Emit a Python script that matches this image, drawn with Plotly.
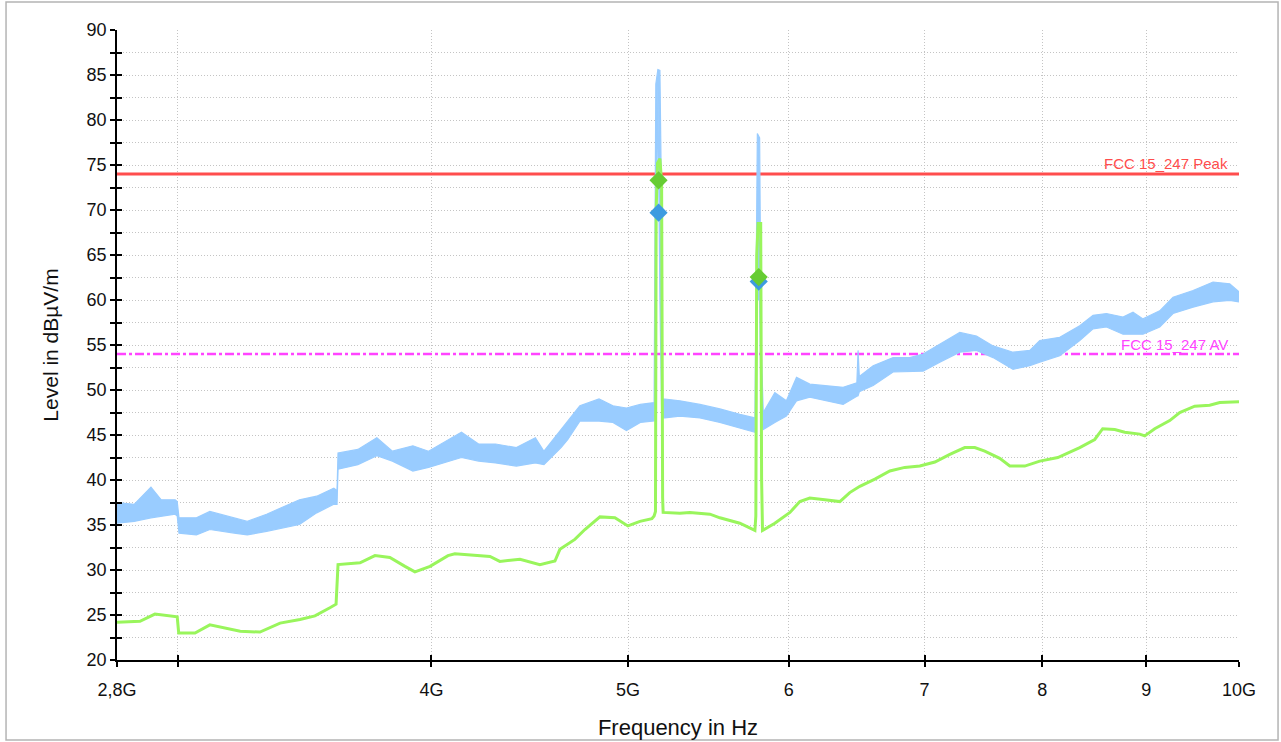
import math
import plotly.graph_objects as go

# ---------------- data ----------------
# Average detector trace (green), frequency in GHz, level in dBuV/m
avg_freq_ghz = [2.800, 2.874, 2.923, 2.990, 2.998, 3.003, 3.059, 3.111, 3.220, 3.293,
                3.369, 3.446, 3.505, 3.565, 3.590, 3.598, 3.689, 3.752, 3.816, 3.882,
                3.926, 3.994, 4.076, 4.108, 4.179, 4.275, 4.323, 4.423, 4.524, 4.602,
                4.628, 4.707, 4.761, 4.843, 4.926, 4.999, 5.068, 5.137, 5.150, 5.158,
                5.162, 5.170, 5.184, 5.194, 5.200, 5.203, 5.303, 5.363, 5.487, 5.549,
                5.676, 5.709, 5.774, 5.780, 5.786, 5.795, 5.812, 5.818, 5.824, 5.906,
                6.008, 6.076, 6.145, 6.251, 6.358, 6.430, 6.504, 6.616, 6.729, 6.844,
                6.962, 7.082, 7.203, 7.326, 7.410, 7.494, 7.623, 7.710, 7.842, 7.977,
                8.142, 8.347, 8.490, 8.567, 8.685, 8.784, 8.935, 8.986, 9.088, 9.244,
                9.350, 9.510, 9.673, 9.784, 10.000]
avg_level = [24.2, 24.3, 25.1, 24.9, 24.8, 23.0, 23.0, 23.9, 23.2, 23.1,
             24.1, 24.5, 24.9, 25.8, 26.2, 30.6, 30.8, 31.6, 31.4, 30.4,
             29.8, 30.4, 31.6, 31.8, 31.7, 31.5, 30.95, 31.2, 30.6, 31.0,
             32.3, 33.4, 34.5, 35.9, 35.8, 34.9, 35.4, 35.7, 36.0, 36.5,
             70.0, 75.2, 75.7, 73.0, 38.0, 36.4, 36.3, 36.4, 36.2, 35.8,
             35.2, 34.9, 34.4, 36.0, 65.0, 68.5, 68.5, 40.0, 34.4, 35.2,
             36.4, 37.6, 38.0, 37.8, 37.6, 38.6, 39.3, 40.1, 41.0, 41.4,
             41.55, 42.0, 42.85, 43.6, 43.6, 43.2, 42.4, 41.55, 41.55, 42.1,
             42.5, 43.6, 44.5, 45.7, 45.6, 45.3, 45.1, 44.9, 45.7, 46.6,
             47.5, 48.2, 48.3, 48.6, 48.7]

# Peak detector trace (blue): lower / upper envelope of the noisy trace
pk_freq_ghz = [2.800, 2.855, 2.910, 2.944, 2.991, 2.998, 3.004, 3.064, 3.111, 3.198,
               3.246, 3.318, 3.444, 3.512, 3.581, 3.594, 3.598, 3.680, 3.760, 3.827,
               3.917, 3.987, 4.139, 4.220, 4.302, 4.405, 4.501, 4.545, 4.634, 4.670,
               4.734, 4.838, 4.915, 4.991, 5.070, 5.150,
               5.155, 5.160, 5.172, 5.184, 5.194, 5.200,
               5.213, 5.303, 5.425, 5.549, 5.676, 5.774,
               5.782, 5.790, 5.805, 5.815, 5.829,
               5.906, 5.984, 6.053, 6.145, 6.263, 6.382, 6.482, 6.491, 6.500, 6.603,
               6.754, 6.883, 6.988, 7.122, 7.285, 7.424, 7.565, 7.739, 7.887, 7.977,
               8.160, 8.347, 8.474, 8.604, 8.767, 8.867, 8.968, 9.140, 9.279, 9.492,
               9.710, 9.895, 10.000]
pk_low = [35.2, 35.4, 35.8, 36.0, 36.2, 36.0, 34.1, 33.9, 34.5, 34.1,
          33.9, 34.3, 35.05, 36.35, 37.3, 37.3, 41.2, 41.7, 42.7, 42.1,
          41.0, 41.4, 42.5, 42.1, 41.9, 41.55, 41.9, 41.7, 43.6, 44.5,
          46.55, 46.55, 46.4, 45.5, 46.4, 46.55,
          48.0, 60.0, 84.0, 60.0, 48.0, 46.9,
          46.9, 47.1, 46.9, 46.4, 45.8, 45.3,
          47.0, 60.0, 60.0, 47.0, 45.6,
          46.4, 47.1, 48.8, 49.2, 48.8, 48.4, 49.3, 49.35, 49.8, 50.5,
          52.0, 52.1, 52.1, 53.1, 54.2, 54.4, 53.6, 52.3, 52.7, 53.1,
          53.8, 55.5, 56.8, 57.0, 56.2, 56.2, 56.2, 57.0, 58.5, 59.2,
          59.8, 59.95, 59.8]
pk_high = [37.5, 37.3, 39.2, 37.8, 37.8, 37.6, 35.8, 35.8, 36.5, 35.8,
           35.4, 36.2, 37.8, 38.2, 39.1, 38.8, 43.0, 43.4, 44.7, 43.2,
           43.8, 43.2, 45.3, 44.0, 44.0, 43.6, 44.7, 43.2, 45.6, 46.55,
           48.25, 49.0, 48.25, 48.0, 48.4, 48.6,
           61.0, 84.0, 85.6, 85.5, 70.0, 49.0,
           49.0, 48.8, 48.4, 47.9, 47.3, 46.9,
           62.0, 78.5, 78.0, 55.0, 47.5,
           49.7, 48.8, 51.4, 50.65, 50.5, 50.3, 50.8, 54.4, 51.5, 52.7,
           53.6, 53.6, 54.0, 55.1, 56.4, 56.0, 54.9, 54.2, 54.4, 55.5,
           55.85, 57.15, 58.3, 58.5, 58.1, 58.65, 57.9, 58.8, 60.3, 61.05,
           62.0, 61.8, 60.9]

# Final measurement markers
final_freq_ghz = [5.176, 5.799]
final_peak = [69.7, 62.05]
final_avg = [73.3, 62.55]

# Limit lines
limit_peak = 74.0
limit_avg = 54.0
limit_peak_name = "FCC 15_247 Peak"
limit_avg_name = "FCC 15_247 AV"

# Axis ticks
x_tick_ghz = [2.8, 3, 4, 5, 6, 7, 8, 9, 10]
x_tick_text = ["2,8G", "", "4G", "5G", "6", "7", "8", "9", "10G"]
x_min_ghz, x_max_ghz = 2.8, 10.0
y_min, y_max = 20, 90

# ---------------- figure ----------------
G = 1e9
hz = lambda arr: [v * G for v in arr]

FONT = "Liberation Sans, Arial, sans-serif"
BLUE = "#99ccff"
GREEN = "#99f55c"
GRID = "#c4c4c4"
DOTS = "1px,2px"

xr = [math.log10(x_min_ghz * G), math.log10(x_max_ghz * G)]

fig = go.Figure()

# limit lines (drawn first, below the measured traces)
fig.add_trace(go.Scatter(x=[x_min_ghz * G, x_max_ghz * G], y=[limit_avg, limit_avg],
                         mode="lines", line=dict(color="#ff44ff", width=2.5, dash="dashdot"),
                         showlegend=False, name=limit_avg_name))
fig.add_trace(go.Scatter(x=[x_min_ghz * G, x_max_ghz * G], y=[limit_peak, limit_peak],
                         mode="lines", line=dict(color="#ff4d4d", width=3),
                         showlegend=False, name=limit_peak_name))

# peak band (lower, then upper filled to lower)
fig.add_trace(go.Scatter(x=hz(pk_freq_ghz), y=pk_low, mode="lines",
                         line=dict(color=BLUE, width=1.2), showlegend=False,
                         hoverinfo="skip"))
fig.add_trace(go.Scatter(x=hz(pk_freq_ghz), y=pk_high, mode="lines",
                         line=dict(color=BLUE, width=1.2), fill="tonexty",
                         fillcolor=BLUE, showlegend=False, name="Peak"))

# average trace
fig.add_trace(go.Scatter(x=hz(avg_freq_ghz), y=avg_level, mode="lines",
                         line=dict(color=GREEN, width=3), showlegend=False,
                         name="Average"))

# final markers (on the overlay axes, which also draw the inner half of the ticks)
fig.add_trace(go.Scatter(x=hz(final_freq_ghz), y=final_peak, mode="markers",
                         marker=dict(symbol="diamond", size=14, color="#3d9be0"),
                         showlegend=False, xaxis="x2", yaxis="y2"))
fig.add_trace(go.Scatter(x=hz(final_freq_ghz), y=final_avg, mode="markers",
                         marker=dict(symbol="diamond", size=14, color="#66cc33"),
                         showlegend=False, xaxis="x2", yaxis="y2"))

tickfont = dict(family=FONT, size=18, color="#111111")

fig.update_layout(
    width=1281, height=742,
    margin=dict(l=117, r=42, t=30, b=82),
    paper_bgcolor="white", plot_bgcolor="white",
    showlegend=False,
    xaxis=dict(type="log", range=xr, automargin=False,
               tickvals=hz(x_tick_ghz), ticktext=x_tick_text,
               ticks="outside", ticklen=5, tickwidth=1.5, tickcolor="black",
               tickfont=tickfont, ticklabelstandoff=8,
               showline=True, linecolor="black", linewidth=1.5,
               showgrid=True, gridcolor=GRID, griddash=DOTS, gridwidth=1,
               zeroline=False,
               title=dict(text="Frequency in Hz", font=dict(family=FONT, size=22, color="#111111"),
                          standoff=20)),
    yaxis=dict(range=[y_min, y_max], tickmode="linear", tick0=20, dtick=5, automargin=False,
               ticks="outside", ticklen=5, tickwidth=1.5, tickcolor="black",
               tickfont=tickfont,
               showline=True, linecolor="black", linewidth=1.5,
               showgrid=True, gridcolor=GRID, griddash=DOTS, gridwidth=1,
               zeroline=False,
               minor=dict(tickmode="linear", dtick=2.5, ticks="outside", ticklen=5,
                          tickwidth=1.5, tickcolor="black",
                          showgrid=True, gridcolor=GRID, griddash=DOTS, gridwidth=1),
               title=dict(text="Level in dBµV/m", font=dict(family=FONT, size=21, color="#111111"),
                          standoff=22)),
    xaxis2=dict(type="log", range=xr, overlaying="x", anchor="y2", side="bottom",
                automargin=False,
                tickvals=hz(x_tick_ghz), ticks="inside", ticklen=5, tickwidth=1.5,
                tickcolor="black", showticklabels=False, showgrid=False,
                showline=False, zeroline=False),
    yaxis2=dict(range=[y_min, y_max], overlaying="y", anchor="x2", side="left",
                automargin=False,
                tickmode="linear", tick0=20, dtick=2.5, ticks="inside", ticklen=5,
                tickwidth=1.5, tickcolor="black", showticklabels=False,
                showgrid=False, showline=False, zeroline=False),
)

# limit labels
fig.add_annotation(x=xr[1], y=limit_peak, xref="x", yref="y", text=limit_peak_name,
                   showarrow=False, xanchor="right", yanchor="bottom", xshift=-9, yshift=0,
                   font=dict(family=FONT, size=15, color="#ff4d4d"))
fig.add_annotation(x=xr[1], y=limit_avg, xref="x", yref="y", text=limit_avg_name,
                   showarrow=False, xanchor="right", yanchor="bottom", xshift=-9, yshift=-1,
                   font=dict(family=FONT, size=15, color="#ff44ff"))

# outer frame
fig.add_shape(type="rect", xref="paper", yref="paper",
              x0=-0.0989, x1=1.0348, y0=-0.127, y1=1.0445,
              line=dict(color="#b4b4b4", width=1.5), fillcolor="rgba(0,0,0,0)", layer="below")

fig.write_html("out.html", config={"displayModeBar": False},
               post_script="document.body.style.margin='0';document.body.style.overflow='hidden';")
